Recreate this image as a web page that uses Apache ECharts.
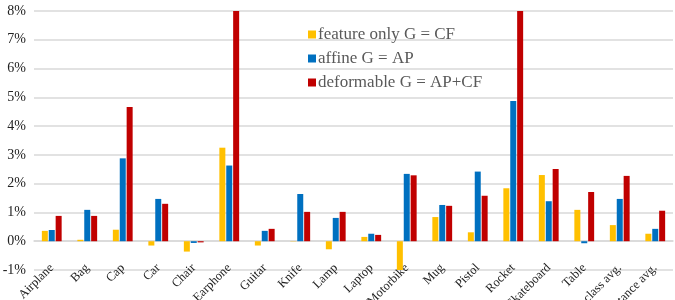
<!DOCTYPE html>
<html>
<head>
<meta charset="utf-8">
<script src="https://cdn.jsdelivr.net/npm/echarts@6/dist/echarts.min.js"></script>
<style>
	html, body { margin: 0; padding: 0; background: #fff; }
	#chart { width: 675px; height: 300px; }
</style>
</head>
<body>
<div id="chart"></div>
<script>
var categories = ['Airplane', 'Bag', 'Cap', 'Car', 'Chair', 'Earphone', 'Guitar', 'Knife', 'Lamp',
	'Laptop', 'Motorbike', 'Mug', 'Pistol', 'Rocket', 'Skateboard', 'Table', 'class avg.', 'instance avg.'];
var featureOnly = [0.36, 0.05, 0.40, -0.15, -0.36, 3.25, -0.15, -0.01, -0.28, 0.15, -1.05, 0.84, 0.31, 1.84, 2.30, 1.09, 0.56, 0.26];
var affine = [0.39, 1.09, 2.88, 1.47, -0.06, 2.63, 0.36, 1.64, 0.81, 0.26, 2.34, 1.26, 2.42, 4.87, 1.39, -0.07, 1.47, 0.43];
var deformable = [0.88, 0.88, 4.66, 1.30, -0.04, 9.5, 0.43, 1.02, 1.02, 0.22, 2.29, 1.23, 1.58, 9.5, 2.51, 1.71, 2.27, 1.06];
var seriesNames = ['feature only G = CF', 'affine G = AP', 'deformable G = AP+CF'];
var colors = ['#FFC000', '#0070C0', '#C00000'];

var chart = echarts.init(document.getElementById('chart'));
var font = '"Liberation Serif", "Times New Roman", serif';
var option = {
	animation: false,
	color: colors,
	grid: { left: 34, right: 2, top: 11, bottom: 30, containLabel: false, outerBoundsMode: 'none' },
	legend: {
		orient: 'vertical',
		left: 303,
		top: 21,
		itemWidth: 8,
		itemHeight: 8,
		itemGap: 7,
		icon: 'rect',
		textStyle: { fontFamily: font, fontSize: 17, color: '#595959', padding: [0, 0, 0, -3] },
		data: seriesNames
	},
	xAxis: {
		type: 'category',
		data: categories,
		axisLine: { onZero: true, lineStyle: { color: '#d9d9d9', width: 1.5 } },
		axisTick: { show: false },
		axisLabel: { rotate: 45, interval: 0, margin: -4, fontFamily: font, fontSize: 12.5, color: '#222' }
	},
	yAxis: {
		type: 'value',
		min: -1,
		max: 8,
		interval: 1,
		axisLine: { show: false },
		axisTick: { show: false },
		splitLine: { lineStyle: { color: '#d9d9d9', width: 1.5 } },
		axisLabel: { formatter: '{value}%', margin: 8, fontFamily: font, fontSize: 14, color: '#222' }
	},
	series: [{
		name: seriesNames[0],
		type: 'bar',
		data: featureOnly,
		barWidth: 6,
		barGap: '15%',
		clip: true
	},
	{
		name: seriesNames[1],
		type: 'bar',
		data: affine,
		barWidth: 6,
		barGap: '15%',
		clip: true
	},
	{
		name: seriesNames[2],
		type: 'bar',
		data: deformable,
		barWidth: 6,
		barGap: '15%',
		clip: true
	}]
};
chart.setOption(option);
</script>
</body>
</html>
